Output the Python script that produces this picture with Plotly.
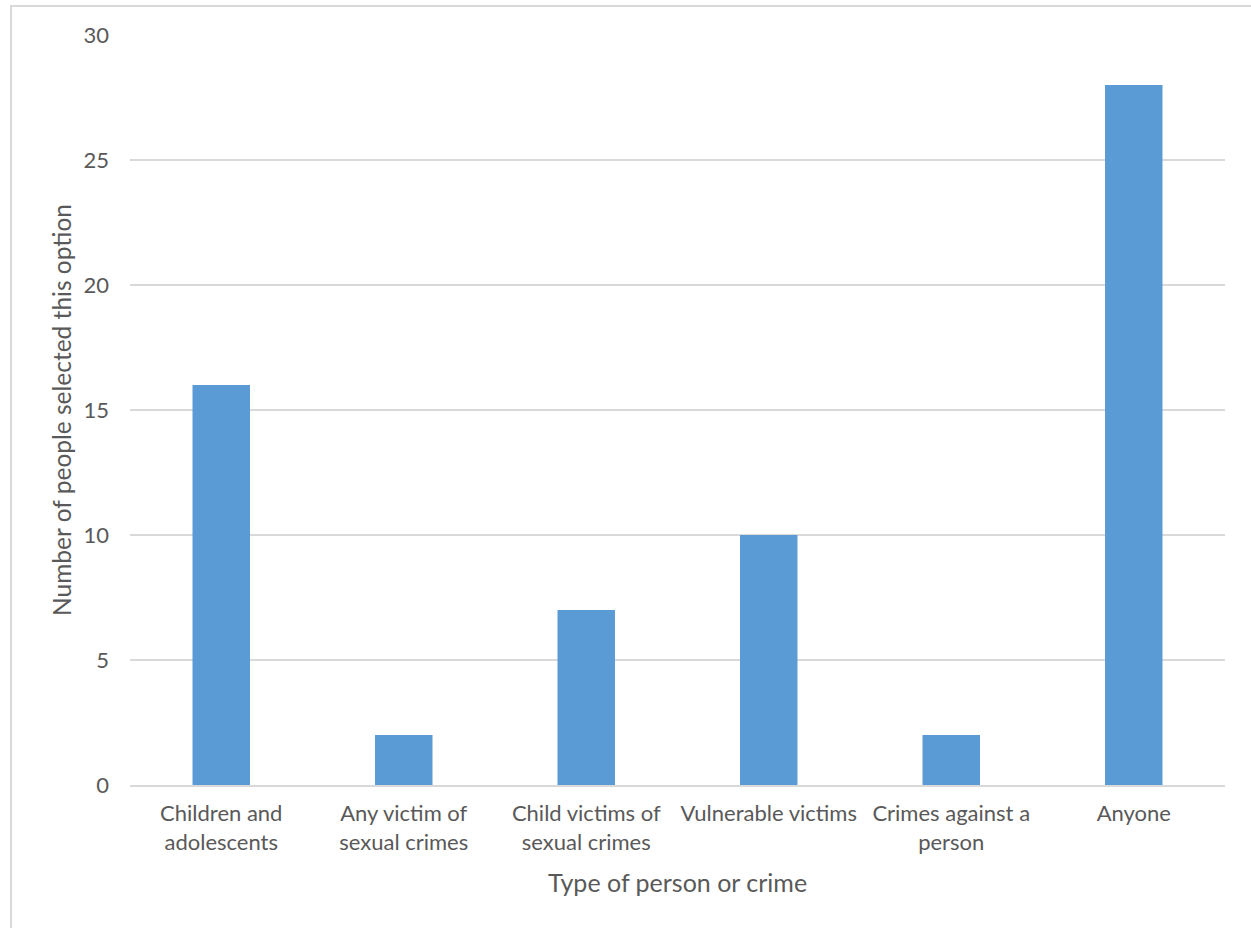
import plotly.graph_objects as go

categories = [
    "Children and<br>adolescents",
    "Any victim of<br>sexual crimes",
    "Child victims of<br>sexual crimes",
    "Vulnerable victims",
    "Crimes against a<br>person",
    "Anyone",
]
counts = [16, 2, 7, 10, 2, 28]
y_ticks = [0, 5, 10, 15, 20, 25, 30]

W, H = 1251, 928
L, R, T, B = 130, 26, 35, 143
pw, ph = W - L - R, H - T - B

fig = go.Figure(
    go.Bar(
        x=categories,
        y=counts,
        marker=dict(color="#5b9bd5", line=dict(width=0)),
        width=0.315,
    )
)

font_family = "Lato, 'Open Sans', sans-serif"
grey = "#595959"

fig.update_layout(
    width=W,
    height=H,
    margin=dict(l=L, r=R, t=T, b=B),
    paper_bgcolor="white",
    plot_bgcolor="white",
    showlegend=False,
    font=dict(family=font_family, color=grey, size=22),
    xaxis=dict(
        showgrid=False,
        showline=True,
        linecolor="#d9d9d9",
        linewidth=2,
        ticks="outside",
        ticklen=8,
        tickcolor="rgba(0,0,0,0)",
        tickfont=dict(size=22, color=grey),
        title=dict(text="Type of person or crime", font=dict(size=25, color=grey), standoff=20),
    ),
    yaxis=dict(
        range=[0, 30],
        tickvals=y_ticks,
        showgrid=True,
        gridcolor="#d9d9d9",
        gridwidth=1.5,
        zeroline=False,
        showline=False,
        ticks="",
        ticklabelstandoff=20,
        tickfont=dict(size=22, color=grey),
        title=dict(text="Number of people selected this option", font=dict(size=24.5, color=grey), standoff=4),
    ),
)

# Outer chart frame (left and top edges visible)
fig.add_shape(
    type="rect",
    xref="paper", yref="paper",
    x0=(11 - L) / pw, x1=(W + 20 - L) / pw,
    y0=(H - B - (H + 20)) / ph, y1=(H - B - 6) / ph,
    line=dict(color="#d9d9d9", width=2),
    fillcolor="rgba(0,0,0,0)",
    layer="below",
)

fig.write_html("out.html")
